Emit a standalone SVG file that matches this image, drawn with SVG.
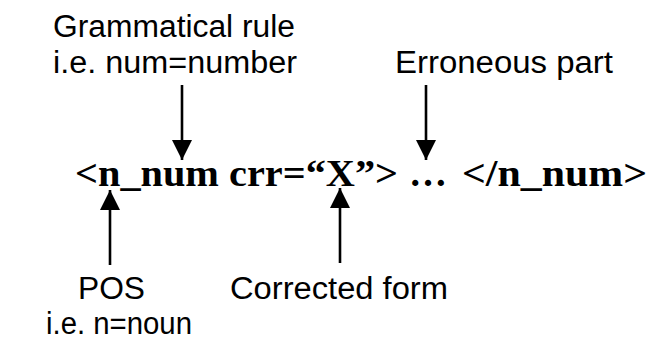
<svg xmlns="http://www.w3.org/2000/svg" width="653" height="341" viewBox="0 0 653 341">
  <style>
    .lbl { font-family: "Liberation Sans", Arial, sans-serif; font-size: 31px; fill: #000; }
    .tag { font-family: "Liberation Serif", "Times New Roman", serif; font-size: 38px; font-weight: bold; fill: #000; }
    .arr { stroke: #000; stroke-width: 2.6; fill: none; marker-end: url(#head); }
  </style>
  <defs>
    <marker id="head" markerUnits="userSpaceOnUse" markerWidth="20" markerHeight="20" refX="20" refY="10" orient="auto">
      <path d="M0,0 L20,10 L0,20 Z" fill="#000"/>
    </marker>
  </defs>
  <rect width="653" height="341" fill="#fff"/>

  <g id="grammatical-rule">
    <text class="lbl" x="53" y="37" textLength="242" lengthAdjust="spacingAndGlyphs">Grammatical rule</text>
    <text class="lbl" x="53" y="73" textLength="244" lengthAdjust="spacingAndGlyphs">i.e. num=number</text>
  </g>
  <g id="erroneous-part">
    <text class="lbl" x="395" y="73" textLength="218" lengthAdjust="spacingAndGlyphs">Erroneous part</text>
  </g>
  <g id="tag">
    <text class="tag" x="75" y="186" textLength="323" lengthAdjust="spacingAndGlyphs">&lt;n_num crr=“X”&gt;</text>
    <text class="tag" x="409" y="186">…</text>
    <text class="tag" x="462" y="186" textLength="185" lengthAdjust="spacingAndGlyphs">&lt;/n_num&gt;</text>
  </g>
  <g id="pos">
    <text class="lbl" x="78" y="299" textLength="67" lengthAdjust="spacingAndGlyphs">POS</text>
    <text class="lbl" x="46" y="334" textLength="146" lengthAdjust="spacingAndGlyphs">i.e. n=noun</text>
  </g>
  <g id="corrected-form">
    <text class="lbl" x="230" y="299" textLength="218" lengthAdjust="spacingAndGlyphs">Corrected form</text>
  </g>

  <g id="connectors">
    <line class="arr" x1="182" y1="85" x2="182" y2="160"/>
    <line class="arr" x1="426" y1="85" x2="426" y2="160"/>
    <line class="arr" x1="110" y1="265" x2="110" y2="190"/>
    <line class="arr" x1="340" y1="263" x2="340" y2="188"/>
  </g>
</svg>
